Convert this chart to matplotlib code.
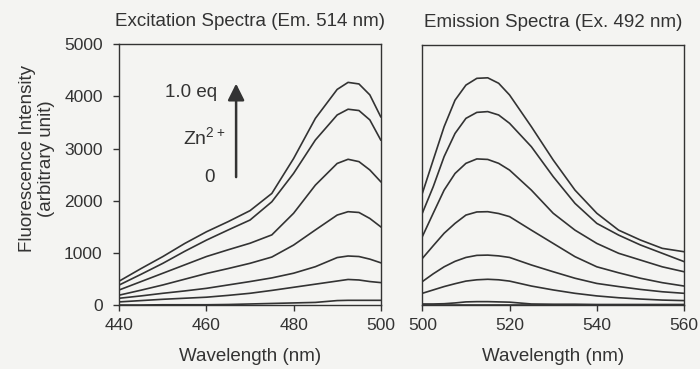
import matplotlib
matplotlib.use("Agg")
import matplotlib.pyplot as plt

plt.rcParams['font.family'] = ['Liberation Sans', 'DejaVu Sans']
plt.rcParams['mathtext.fontset'] = 'custom'
plt.rcParams['mathtext.rm'] = 'Liberation Sans'

# ---------------- data ----------------
ex_wl = [440, 445, 450, 455, 460, 465, 470, 475, 480, 485, 490, 492.5, 495, 497.5, 500]
ex_series = [
    [0, 0, 5, 5, 5, 10, 20, 30, 40, 50, 85, 90, 90, 90, 90],                       # 0 eq
    [60, 85, 110, 130, 150, 185, 225, 280, 340, 400, 460, 490, 480, 450, 430],
    [130, 175, 225, 270, 320, 385, 450, 520, 610, 735, 910, 940, 930, 880, 810],
    [190, 285, 385, 495, 605, 700, 800, 920, 1150, 1440, 1725, 1790, 1775, 1660, 1500],
    [290, 450, 610, 770, 930, 1060, 1185, 1345, 1760, 2300, 2715, 2795, 2750, 2590, 2365],
    [385, 590, 800, 1030, 1245, 1440, 1630, 1980, 2525, 3165, 3645, 3755, 3730, 3550, 3165],
    [460, 700, 930, 1180, 1405, 1600, 1810, 2140, 2810, 3580, 4135, 4270, 4240, 4030, 3610],  # 1.0 eq
]

em_wl = [500, 502.5, 505, 507.5, 510, 512.5, 515, 517.5, 520, 525, 530, 535, 540, 545, 550, 555, 560]
em_series = [
    [0, 0, 0, 0, 0, 0, 0, 0, 0, 0, 0, 0, 0, 0, 0, 0, 0],                            # 0 eq
    [20, 20, 25, 40, 60, 65, 65, 60, 55, 20, 15, 15, 10, 10, 10, 10, 10],
    [225, 290, 355, 410, 460, 485, 495, 485, 460, 365, 290, 225, 175, 140, 115, 95, 85],
    [450, 600, 735, 840, 915, 955, 960, 945, 915, 770, 640, 515, 415, 355, 300, 255, 225],
    [895, 1140, 1380, 1570, 1730, 1790, 1795, 1760, 1700, 1440, 1185, 930, 735, 620, 515, 430, 365],
    [1315, 1765, 2210, 2530, 2725, 2810, 2800, 2725, 2595, 2210, 1765, 1440, 1185, 995, 865, 735, 640],
    [1765, 2275, 2855, 3300, 3590, 3705, 3720, 3655, 3495, 3045, 2470, 1955, 1570, 1345, 1155, 995, 835],
    [2145, 2790, 3430, 3940, 4230, 4360, 4370, 4265, 4040, 3430, 2790, 2210, 1765, 1440, 1250, 1090, 1025],  # 1.0 eq
]

ex_xticks = [440, 460, 480, 500]
em_xticks = [500, 520, 540, 560]
y_ticks = [0, 1000, 2000, 3000, 4000, 5000]

# ---------------- figure ----------------
bg = '#f4f4f2'
ink = '#333333'
fs_lab = 13.5
fs_tick = 12.5
fig = plt.figure(figsize=(7.0, 3.69), dpi=100, facecolor=bg)

ax1 = fig.add_axes([0.1705, 0.1734, 0.3734, 0.7065])
ax2 = fig.add_axes([0.6033, 0.1734, 0.3739, 0.7045])

for ax in (ax1, ax2):
    ax.set_facecolor(bg)
    for s in ax.spines.values():
        s.set_color(ink)
        s.set_linewidth(1.0)
    ax.set_ylim(0, 5000)
    ax.tick_params(direction='out', length=4, width=1.0, colors=ink,
                   labelsize=fs_tick, labelcolor=ink, top=False, right=False)
    ax.tick_params(axis='x', pad=5)
    ax.tick_params(axis='y', pad=8)
    ax.set_xlabel('Wavelength (nm)', fontsize=fs_lab, color=ink, labelpad=11)

for ys in ex_series:
    ax1.plot(ex_wl, ys, color=ink, lw=1.2)
for ys in em_series:
    ax2.plot(em_wl, ys, color=ink, lw=1.2)

ax1.set_xlim(440, 500)
ax1.set_xticks(ex_xticks)
ax1.set_yticks(y_ticks)
ax1.set_ylabel('Fluorescence Intensity\n(arbitrary unit)', fontsize=fs_lab,
               color=ink, linespacing=1.15)
ax1.yaxis.set_label_coords(-0.248, 0.562)
ax1.set_title('Excitation Spectra (Em. 514 nm)', fontsize=fs_lab, color=ink, pad=13)

ax2.set_xlim(500, 560)
ax2.set_xticks(em_xticks)
ax2.set_yticks(y_ticks)
ax2.tick_params(axis='y', left=False, labelleft=False)
ax2.set_title('Emission Spectra (Ex. 492 nm)', fontsize=fs_lab, color=ink, pad=13)

# annotation arrow
ax1.annotate('', xy=(466.8, 4300), xytext=(466.8, 2400),
             arrowprops=dict(arrowstyle='-|>,head_length=1.0,head_width=0.5',
                             color=ink, lw=1.8))
ax1.text(456.5, 4085, '1.0 eq', fontsize=13.5, color=ink, ha='center', va='center')
ax1.text(459.5, 3200, r'Zn$^{2+}$', fontsize=14, color=ink, ha='center', va='center')
ax1.text(460.6, 2455, '0', fontsize=13.5, color=ink, ha='center', va='center')

fig.savefig('out.png', dpi=100, facecolor=bg)
